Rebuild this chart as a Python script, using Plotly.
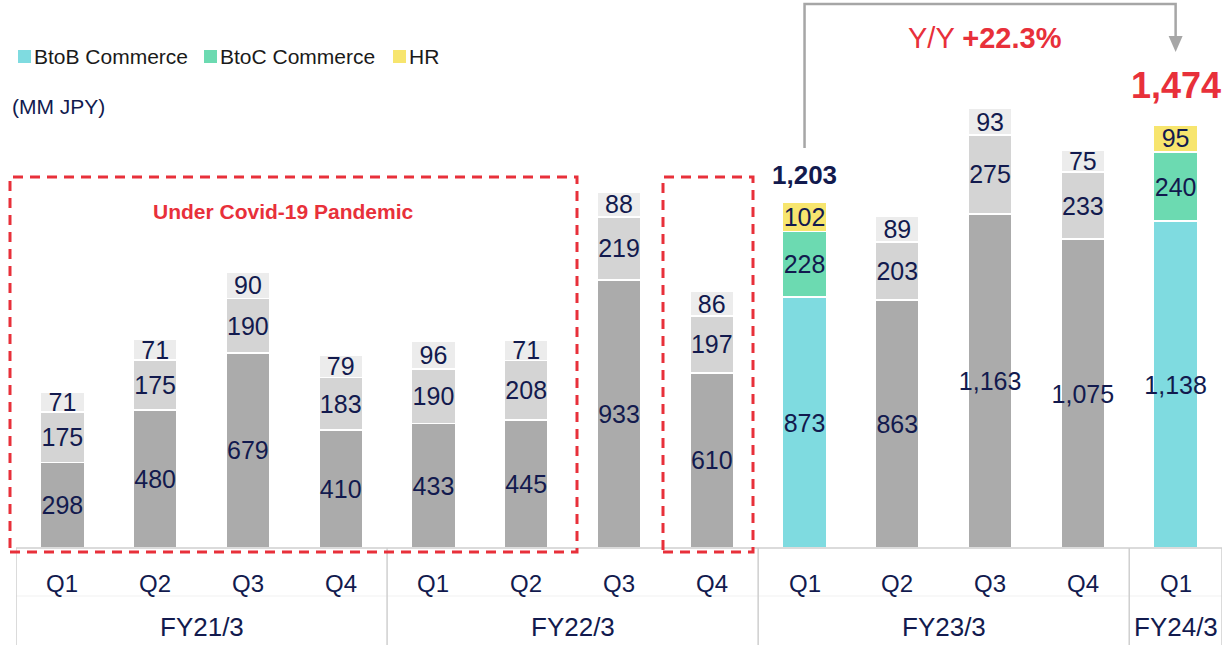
import plotly.graph_objects as go

# ---------------- data ----------------
quarters = ["Q1", "Q2", "Q3", "Q4", "Q1", "Q2", "Q3", "Q4", "Q1", "Q2", "Q3", "Q4", "Q1"]
fy_labels = ["FY21/3", "FY22/3", "FY23/3", "FY24/3"]
fy_sizes = [4, 4, 4, 1]
btob = [298, 480, 679, 410, 433, 445, 933, 610, 873, 863, 1163, 1075, 1138]
btoc = [175, 175, 190, 183, 190, 208, 219, 197, 228, 203, 275, 233, 240]
hr = [71, 71, 90, 79, 96, 71, 88, 86, 102, 89, 93, 75, 95]
highlight = [8, 12]
total_prev = "1,203"
total_curr = "1,474"
yoy_text = "+22.3%"
series_names = ["BtoB Commerce", "BtoC Commerce", "HR"]

# ---------------- style ----------------
FONT = "Liberation Sans, Arial, sans-serif"
NAVY = "#121a4e"
RED = "#e8303a"
GRAY_LINE = "#cfcfcf"
hi_colors = ["#7fdbe0", "#6cdab1", "#f7e56e"]
lo_colors = ["#ababab", "#d4d4d4", "#ececec"]

W, H = 1225, 645
L, R, T, B = 16, 3, 0, 97
PW, PH = W - L - R, H - T - B
YMAX = 548 / 0.2873


def px(xp):
    return (xp - L) / PW


def py(yp):
    return (T + PH - yp) / PH


x = list(range(len(quarters)))
fig = go.Figure()
for k, (vals, name) in enumerate(zip([btob, btoc, hr], series_names)):
    colors = [hi_colors[k] if i in highlight else lo_colors[k] for i in x]
    fig.add_trace(go.Bar(
        x=x, y=vals, name=name, width=0.474,
        marker=dict(color=colors, line=dict(color="white", width=1.6)),
        texttemplate="%{y:,}", textposition="inside", insidetextanchor="middle",
        textangle=0, textfont=dict(family=FONT, size=25, color=NAVY),
        cliponaxis=False, showlegend=False, hoverinfo="skip",
    ))

shapes = []
annotations = []

# custom legend
leg_sq = [18, 204, 393]
for k, name in enumerate(series_names):
    shapes.append(dict(type="rect", xref="paper", yref="paper",
                       x0=px(leg_sq[k]), x1=px(leg_sq[k] + 13), y0=py(63), y1=py(50),
                       fillcolor=hi_colors[k], line=dict(width=0)))
    annotations.append(dict(xref="paper", yref="paper", x=px(leg_sq[k] + 14), y=py(56.5),
                            text=name, showarrow=False, xanchor="left", yanchor="middle",
                            font=dict(family=FONT, size=21, color="#1a1a1a")))
annotations.append(dict(xref="paper", yref="paper", x=px(10), y=py(106), text="(MM JPY)",
                        showarrow=False, xanchor="left", yanchor="middle",
                        font=dict(family=FONT, size=21, color=NAVY)))

# baseline and category dividers
shapes.append(dict(type="line", xref="paper", yref="paper", x0=0, x1=1, y0=0, y1=0,
                   line=dict(color=GRAY_LINE, width=1.5)))
shapes.append(dict(type="line", xref="paper", yref="paper", x0=0, x1=1, y0=py(596), y1=py(596),
                   line=dict(color="#f1f1f1", width=1)))
bounds = [-0.5]
for s in fy_sizes:
    bounds.append(bounds[-1] + s)
for b in bounds:
    shapes.append(dict(type="line", xref="x", yref="paper", x0=b, x1=b, y0=0, y1=py(645),
                       line=dict(color=GRAY_LINE, width=1.5)))
for i, q in enumerate(quarters):
    annotations.append(dict(xref="x", yref="paper", x=i, y=py(583), text=q, showarrow=False,
                            xanchor="center", yanchor="middle",
                            font=dict(family=FONT, size=24, color=NAVY)))
for g, lab in enumerate(fy_labels):
    c = (bounds[g] + bounds[g + 1]) / 2
    annotations.append(dict(xref="x", yref="paper", x=c, y=py(627), text=lab, showarrow=False,
                            xanchor="center", yanchor="middle",
                            font=dict(family=FONT, size=26, color=NAVY)))

# covid dashed boxes
dash = "10px,7px"
shapes.append(dict(type="rect", xref="paper", yref="paper", x0=px(10), x1=px(577),
                   y0=py(552), y1=py(177), line=dict(color=RED, width=3, dash=dash)))
shapes.append(dict(type="rect", xref="paper", yref="paper", x0=px(663), x1=px(753),
                   y0=py(552), y1=py(177), line=dict(color=RED, width=3, dash=dash)))
annotations.append(dict(xref="paper", yref="paper", x=px(283), y=py(212),
                        text="<b>Under Covid-19 Pandemic</b>", showarrow=False,
                        xanchor="center", yanchor="middle",
                        font=dict(family=FONT, size=21, color=RED)))

# Y/Y connector arrow
a0, a1 = highlight
y_top, y_start, y_end = py(4), py(148), py(38)
shapes.append(dict(type="path", xref="x", yref="paper",
                   path=f"M {a0} {y_start} L {a0} {y_top} L {a1} {y_top} L {a1} {y_end}",
                   line=dict(color="#a6a6a6", width=2.5)))
hw = 7 / (PW / len(quarters))
shapes.append(dict(type="path", xref="x", yref="paper",
                   path=f"M {a1 - hw} {py(36)} L {a1 + hw} {py(36)} L {a1} {py(52)} Z",
                   fillcolor="#a6a6a6", line=dict(width=0)))
annotations.append(dict(xref="x", yref="paper", x=(a0 + a1) / 2 - 0.06, y=py(38),
                        text=f"Y/Y <b>{yoy_text}</b>", showarrow=False,
                        xanchor="center", yanchor="middle",
                        font=dict(family=FONT, size=29, color=RED)))
annotations.append(dict(xref="x", yref="paper", x=a1, y=py(85), text=f"<b>{total_curr}</b>",
                        showarrow=False, xanchor="center", yanchor="middle",
                        font=dict(family=FONT, size=36, color=RED)))
annotations.append(dict(xref="x", yref="paper", x=a0, y=py(175), text=f"<b>{total_prev}</b>",
                        showarrow=False, xanchor="center", yanchor="middle",
                        font=dict(family=FONT, size=26, color=NAVY)))

fig.update_layout(
    width=W, height=H, margin=dict(l=L, r=R, t=T, b=B),
    barmode="stack", plot_bgcolor="white", paper_bgcolor="white",
    showlegend=False,
    uniformtext=dict(minsize=25, mode="show"),
    xaxis=dict(range=[-0.5, len(quarters) - 0.5], visible=False, fixedrange=True),
    yaxis=dict(range=[0, YMAX], visible=False, fixedrange=True),
    shapes=shapes, annotations=annotations,
    font=dict(family=FONT),
)
fig.write_html("out.html", config={"displayModeBar": False},
               post_script="document.body.style.margin='0';document.body.style.overflow='hidden';")
